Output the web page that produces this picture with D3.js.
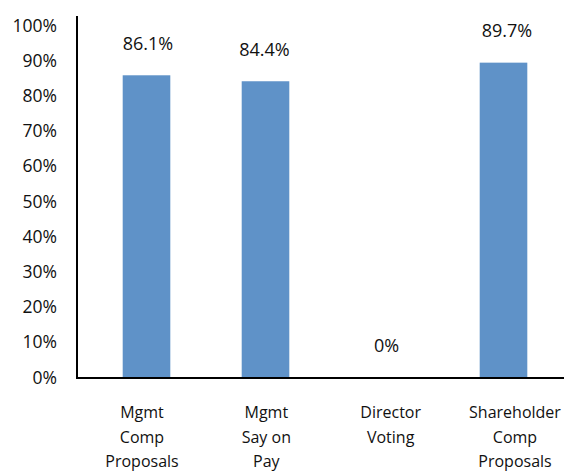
<!DOCTYPE html>
<html>
<head>
<meta charset="utf-8">
<script src="https://cdn.jsdelivr.net/npm/d3@7"></script>
<style>
  html, body { margin: 0; padding: 0; background: #fff; }
  svg { display: block; font-family: "Open Sans", sans-serif; }
</style>
</head>
<body>
<svg id="chart" width="565" height="474"></svg>
<script>
// Categories (multi-line labels) and support levels in percent
const categories = ["Mgmt Comp Proposals", "Mgmt Say on Pay", "Director Voting", "Shareholder Comp Proposals"];
const categoryLines = [["Mgmt", "Comp", "Proposals"], ["Mgmt", "Say on", "Pay"], ["Director", "Voting"], ["Shareholder", "Comp", "Proposals"]];
const values = [86.1, 84.4, 0, 89.7];
const valueLabels = ["86.1%", "84.4%", "0%", "89.7%"];
const yTicks = [0, 10, 20, 30, 40, 50, 60, 70, 80, 90, 100];

const svg = d3.select("#chart");
const axisX = 77, baseY = 377.5;

const x = d3.scaleBand().domain(categories).range([87, 563]).paddingInner(0.6).paddingOuter(0.3);
const y = d3.scaleLinear().domain([0, 100]).range([baseY, 26.5]);
// category captions sit on their own evenly spaced positions
const xLabel = d3.scalePoint().domain(categories).range([142, 515]);

// bars
svg.append("g").selectAll("rect")
  .data(values)
  .join("rect")
  .attr("x", (d, i) => x(categories[i]))
  .attr("width", x.bandwidth())
  .attr("y", d => y(d))
  .attr("height", d => baseY - y(d))
  .attr("fill", "#5f92c8");

// value labels
svg.append("g").selectAll("text")
  .data(values)
  .join("text")
  .attr("x", (d, i) => x(categories[i]) + x.bandwidth() / 2 + [1.5, -1, 2, 3.5][i])
  .attr("y", d => y(d) - 32)
  .attr("dy", "0.35em")
  .attr("text-anchor", "middle")
  .attr("font-size", 18)
  .attr("fill", "#111")
  .text((d, i) => valueLabels[i]);

// y axis: labels from the axis generator, plain vertical line
const yAxis = d3.axisLeft(y).tickValues(yTicks).tickSize(0).tickPadding(0).tickFormat(d => d + "%");
const gy = svg.append("g").attr("transform", "translate(57,0)").call(yAxis);
gy.select(".domain").remove();
gy.selectAll("text")
  .attr("font-family", "Open Sans, sans-serif")
  .attr("font-size", 17.5)
  .attr("fill", "#111")
  .attr("dy", (d) => (0.32 - d * 0.0006) + "em");

svg.append("line")
  .attr("x1", axisX).attr("x2", axisX)
  .attr("y1", 16).attr("y2", baseY + 1)
  .attr("stroke", "#000").attr("stroke-width", 2);

svg.append("line")
  .attr("x1", axisX - 1).attr("x2", 564)
  .attr("y1", baseY + 0.5).attr("y2", baseY + 0.5)
  .attr("stroke", "#000").attr("stroke-width", 2);

// category labels
const gx = svg.append("g");
categories.forEach((c, i) => {
  const t = gx.append("text")
    .attr("x", xLabel(c))
    .attr("y", 418)
    .attr("text-anchor", "middle")
    .attr("font-size", 16)
    .attr("fill", "#111");
  categoryLines[i].forEach((line, j) => {
    t.append("tspan").attr("x", xLabel(c)).attr("y", 418 + j * 24.5).text(line);
  });
});
</script>
</body>
</html>
